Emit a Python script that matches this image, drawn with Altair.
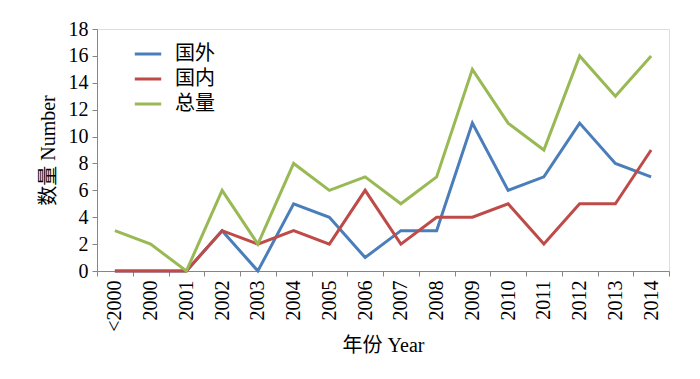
import altair as alt
import pandas as pd

years = ["<2000", "2000", "2001", "2002", "2003", "2004", "2005", "2006",
         "2007", "2008", "2009", "2010", "2011", "2012", "2013", "2014"]
foreign = [0, 0, 0, 3, 0, 5, 4, 1, 3, 3, 11, 6, 7, 11, 8, 7]
domestic = [0, 0, 0, 3, 2, 3, 2, 6, 2, 4, 4, 5, 2, 5, 5, 9]
total = [3, 2, 0, 6, 2, 8, 6, 7, 5, 7, 15, 11, 9, 16, 13, 16]
series = ["国外", "国内", "总量"]
colors = ["#4a7ebb", "#be4b48", "#98b954"]

rows = []
for i, y in enumerate(years):
    rows.append({"year": y, "series": "国外", "value": foreign[i], "order": 0})
    rows.append({"year": y, "series": "国内", "value": domestic[i], "order": 1})
    rows.append({"year": y, "series": "总量", "value": total[i], "order": 2})
df = pd.DataFrame(rows)

FONT = "Liberation Serif, Noto Sans CJK SC"

chart = alt.Chart(df).mark_line(strokeWidth=3).encode(
    x=alt.X("year:N", sort=years, bandPosition=0.5,
            scale=alt.Scale(type="band", paddingInner=0, paddingOuter=0),
            axis=alt.Axis(title="年份 Year", labelAngle=-90, tickBand="extent",
                          labelFontSize=20, titleFontSize=20, labelPadding=4,
                          titlePadding=4, domainColor="#868686", tickColor="#868686",
                          tickSize=5, labelColor="black", titleColor="black",
                          titleFontWeight="normal", labelFont=FONT, titleFont=FONT)),
    y=alt.Y("value:Q", scale=alt.Scale(domain=[0, 18]),
            axis=alt.Axis(title="数量 Number", values=list(range(0, 19, 2)),
                          labelFontSize=20, titleFontSize=20, grid=False,
                          domainColor="#868686", tickColor="#868686", tickSize=5,
                          labelColor="black", titleColor="black",
                          titleFontWeight="normal", labelFont=FONT, titleFont=FONT,
                          titlePadding=10, labelPadding=4)),
    color=alt.Color("series:N", sort=series,
                    scale=alt.Scale(domain=series, range=colors),
                    legend=alt.Legend(title=None, orient="none", legendX=36, legendY=10,
                                      symbolType="stroke", symbolStrokeWidth=3,
                                      symbolSize=700, labelFontSize=20, labelFont=FONT,
                                      labelColor="black", rowPadding=-1, labelOffset=12)),
    order=alt.Order("order:Q"),
    detail="series:N",
).properties(width=572, height=242, padding={"left": 30, "top": 11, "right": 5, "bottom": 5}
).configure_view(stroke=None).configure(background="white")

chart.save("out.html", embed_options={"renderer": "svg", "actions": False})
